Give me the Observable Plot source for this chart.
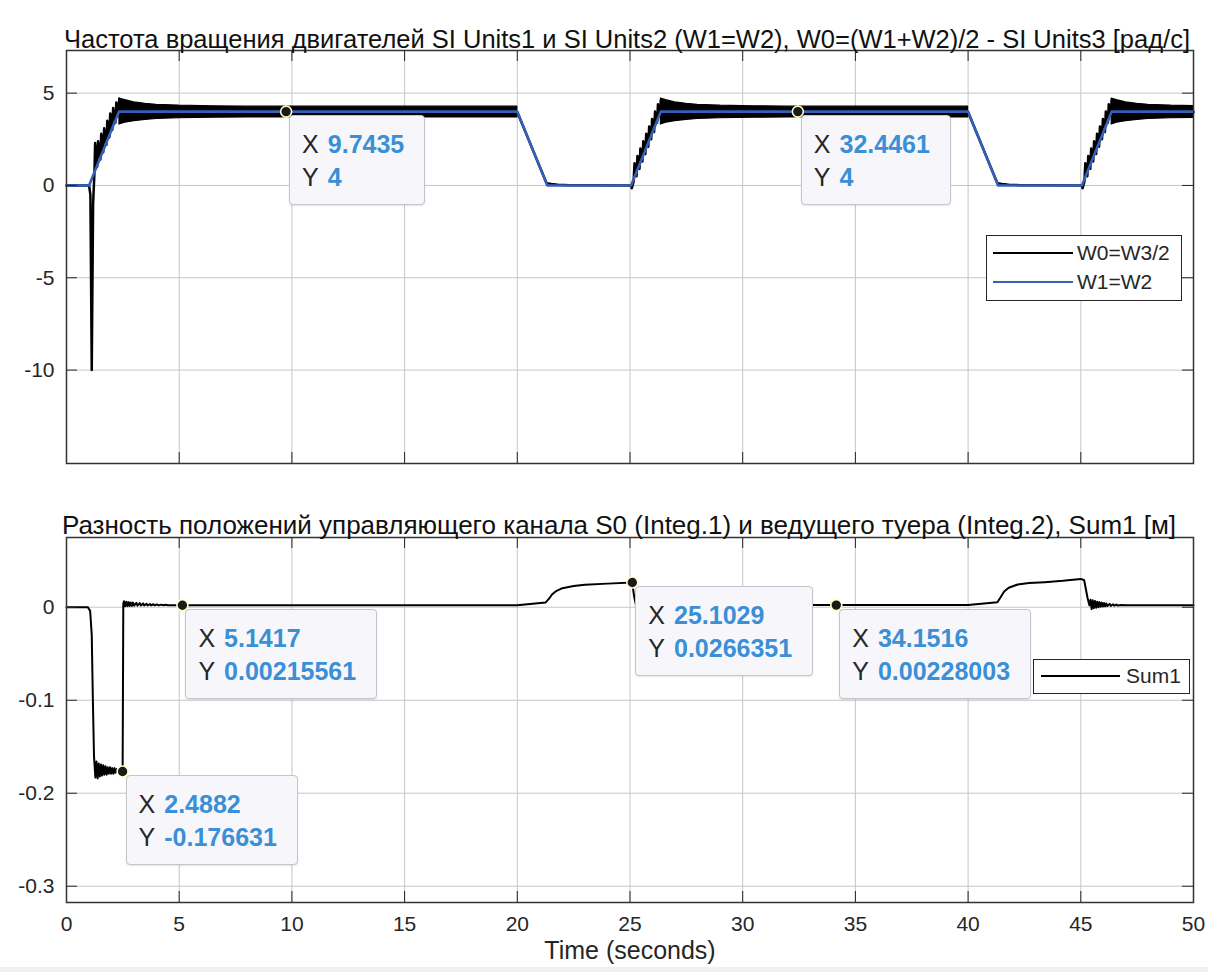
<!DOCTYPE html>
<html>
<head>
<meta charset="utf-8">
<script src="https://cdn.jsdelivr.net/npm/d3@7"></script>
<script src="https://cdn.jsdelivr.net/npm/@observablehq/plot@0.6"></script>
<style>
  body { margin: 0; background: #fff; }
  #wrap { position: relative; width: 1208px; height: 972px; overflow: hidden; background: #fff;
          font-family: "Liberation Sans", Arial, sans-serif; color: #262626; }
  #wrap svg { display: block; position: absolute; left: 0; }
  .strip { position: absolute; left: 0; top: 967px; width: 1208px; height: 5px; background: #f0f0f0; }
  .tip { position: absolute; background: #f7f7fb; border: 1px solid #c4c4ca; border-radius: 4px;
         padding: 12px 20px 10px 12px; font-size: 25px; line-height: 33px; white-space: nowrap;
         color: #262626; box-shadow: 0 1px 2px rgba(0,0,0,0.10); }
  .tip b { color: #3a8fd6; margin-left: 9px; }
  .legend { position: absolute; background: #fff; border: 1px solid #262626; font-size: 21px; }
  .legend .ln { position: absolute; height: 2.5px; }
  .legend .tx { position: absolute; line-height: 24px; white-space: nowrap; color: #262626; }
</style>
</head>
<body>
<div id="wrap"><div class="strip"></div></div>
<script>
// ---------------- data ----------------
const xTicks = [0, 5, 10, 15, 20, 25, 30, 35, 40, 45, 50];
const topYTicks = [-10, -5, 0, 5];
const botYTicks = [-0.3, -0.2, -0.1, 0];

const title1 = "Частота вращения двигателей SI Units1 и SI Units2 (W1=W2), W0=(W1+W2)/2 - SI Units3 [рад/с]";
const title2 = "Разность положений управляющего канала S0 (Integ.1) и ведущего туера (Integ.2), Sum1 [м]";
const xLabel = "Time (seconds)";

// W1=W2 (blue)
const w1T = [0, 1.0, 2.33, 20.0, 21.33, 25.05, 26.37, 40.0, 41.33, 45.05, 46.37, 50];
const w1V = [0, 0, 4, 4, 0, 0, 4, 4, 0, 0, 4, 4];

// W0=W3/2 (black) trace
const w0T = [0, 1.0, 1.06, 1.12, 1.18, 1.24, 1.27, 1.36, 1.40, 1.50, 1.54, 1.63, 1.67, 1.77, 1.81, 1.90, 1.94, 2.03, 2.07, 2.17, 2.21, 2.30, 2.34, 2.45,
  20.0, 21.30, 21.5, 21.8, 22.3, 23.0, 25.05,
  25.08, 25.16, 25.20, 25.29, 25.33, 25.42, 25.46, 25.55, 25.59, 25.68, 25.72, 25.81, 25.85, 25.94, 25.98, 26.07, 26.11, 26.20, 26.24, 26.33, 26.37, 26.45,
  40.0, 41.30, 41.5, 41.8, 42.3, 43.0, 45.05,
  45.08, 45.16, 45.20, 45.29, 45.33, 45.42, 45.46, 45.55, 45.59, 45.68, 45.72, 45.81, 45.85, 45.94, 45.98, 46.07, 46.11, 46.20, 46.24, 46.33, 46.37, 46.45,
  50];
const w0V = [0, 0, -0.5, -10, -1, 0.7, 2.3, 1.0, 2.4, 1.4, 2.8, 1.8, 3.1, 2.2, 3.5, 2.6, 3.9, 3.0, 4.2, 3.4, 4.5, 3.8, 4.7, 3.97,
  3.97, 0.12, 0.08, 0.04, 0.015, 0.005, 0,
  -0.15, 0.2, 1.2, 0.5, 1.6, 0.9, 2.0, 1.3, 2.4, 1.7, 2.8, 2.1, 3.2, 2.5, 3.6, 2.9, 4.0, 3.4, 4.4, 3.8, 4.6, 3.97,
  3.97, 0.12, 0.08, 0.04, 0.015, 0.005, 0,
  -0.15, 0.2, 1.2, 0.5, 1.6, 0.9, 2.0, 1.3, 2.4, 1.7, 2.8, 2.1, 3.2, 2.5, 3.6, 2.9, 4.0, 3.4, 4.4, 3.8, 4.6, 3.97,
  3.97];

// W0 oscillation envelope on the plateaus
const w0BandSeg = [1,1,1,1,1,1,1,1,1, 2,2,2,2,2,2,2,2,2, 3,3,3,3,3,3,3];
const w0BandT  = [2.35, 2.6, 3.0, 3.5, 4.0, 5.0, 6.5, 8.0, 20.0,
                  26.37, 26.6, 27.0, 27.5, 28.0, 29.0, 30.5, 32.0, 40.0,
                  46.37, 46.6, 47.0, 47.5, 48.0, 49.0, 50.0];
const w0BandLo = [3.30, 3.40, 3.48, 3.55, 3.60, 3.64, 3.67, 3.68, 3.68,
                  3.30, 3.40, 3.48, 3.55, 3.60, 3.64, 3.67, 3.68, 3.68,
                  3.30, 3.40, 3.48, 3.55, 3.60, 3.64, 3.66];
const w0BandHi = [4.70, 4.62, 4.50, 4.42, 4.37, 4.32, 4.29, 4.27, 4.27,
                  4.70, 4.62, 4.50, 4.42, 4.37, 4.32, 4.29, 4.27, 4.27,
                  4.70, 4.62, 4.50, 4.42, 4.37, 4.32, 4.30];

// Sum1 trace (with its ringing read point by point)
const sT = [0, 0.95, 1.05, 1.12, 1.17, 1.22, 1.28,
  1.33, 1.38, 1.43, 1.48, 1.53, 1.58, 1.63, 1.68, 1.73, 1.78, 1.83, 1.88, 1.93, 1.98, 2.03, 2.08, 2.13, 2.18, 2.23, 2.28, 2.33, 2.38, 2.43, 2.47, 2.49,
  2.52, 2.55, 2.6, 2.65, 2.7, 2.75, 2.8, 2.85, 2.9, 2.95, 3.0, 3.1, 3.15, 3.25, 3.3, 3.4, 3.45, 3.55, 3.6, 3.7, 3.75, 3.85, 3.9, 4.0, 4.1, 4.2, 4.3, 4.4, 4.5, 5.0,
  20.0, 21.25, 21.4, 21.55, 21.7, 22.0, 22.5, 23.0, 24.0, 25.1, 25.18, 25.26, 26.5,
  40.0, 41.3, 41.45, 41.6, 41.8, 42.2, 42.7, 43.4, 44.2, 45.0, 45.15, 45.3, 45.38,
  45.43, 45.48, 45.53, 45.58, 45.63, 45.68, 45.73, 45.78, 45.83, 45.88, 45.93, 45.98, 46.03, 46.08, 46.13, 46.18, 46.28, 46.33, 46.43, 46.48, 46.58, 46.63, 46.8, 47.0, 50];
const sV = [0, 0, -0.004, -0.03, -0.1, -0.16, -0.183,
  -0.166, -0.184, -0.168, -0.182, -0.169, -0.181, -0.170, -0.180, -0.171, -0.180, -0.172, -0.179, -0.172, -0.179, -0.173, -0.179, -0.173, -0.178, -0.174, -0.178, -0.174, -0.178, -0.175, -0.177, -0.1766,
  0.004, 0.0065, 0.001, 0.006, 0.0012, 0.0055, 0.0014, 0.0052, 0.0015, 0.005, 0.0016, 0.0047, 0.0017, 0.0044, 0.0018, 0.0041, 0.0019, 0.0038, 0.0019, 0.0035, 0.002, 0.0032, 0.002, 0.003, 0.002, 0.0028, 0.0021, 0.0026, 0.0021, 0.0022,
  0.0022, 0.005, 0.009, 0.014, 0.017, 0.0205, 0.0228, 0.0241, 0.0254, 0.0266, 0.012, 0.003, 0.0023,
  0.0023, 0.0054, 0.011, 0.017, 0.021, 0.0245, 0.026, 0.027, 0.0285, 0.0305, 0.029, 0.01, 0.002,
  0.008, -0.002, 0.0075, -0.001, 0.0068, -0.0005, 0.006, 0.0, 0.0055, 0.0005, 0.005, 0.0008, 0.0045, 0.001, 0.004, 0.0013, 0.0036, 0.0015, 0.0032, 0.0017, 0.0029, 0.0018, 0.0025, 0.0022, 0.0022];

// data tips
const tipTopX = [9.7435, 32.4461];
const tipTopY = [4, 4];
const tipBotX = [5.1417, 2.4882, 25.1029, 34.1516];
const tipBotY = [0.00215561, -0.176631, 0.0266351, 0.00228003];

// legends
const legTopLabels = ["W0=W3/2", "W1=W2"];
const legBotLabels = ["Sum1"];

// ---------------- drawing ----------------
const C_BLACK = "#000000", C_BLUE = "#3560b8", C_GRID = "#c6c6c6", C_AX = "#262626";
const FONT = "'Liberation Sans', Arial, sans-serif";
const W = 1208, ML = 66, MR = 15;

const rows = (t, v) => t.map((x, i) => ({t: x, v: v[i]}));
const bandRows = (seg, t, lo, hi) => t.map((x, i) => ({t: x, lo: lo[i], hi: hi[i], seg: seg[i]}));

function frameMarks(innerW, innerH, yTicks) {
  const T = 11;
  return [
    Plot.tickX(xTicks, {x: d => d, insetBottom: innerH - T, stroke: C_AX, strokeWidth: 1}),
    Plot.tickX(xTicks, {x: d => d, insetTop: innerH - T, stroke: C_AX, strokeWidth: 1}),
    Plot.tickY(yTicks, {y: d => d, insetRight: innerW - T, stroke: C_AX, strokeWidth: 1}),
    Plot.tickY(yTicks, {y: d => d, insetLeft: innerW - T, stroke: C_AX, strokeWidth: 1}),
    Plot.frame({stroke: "#333", strokeWidth: 1.5})
  ];
}

const h1 = 475, mt1 = 50, mb1 = 12;
const p1 = Plot.plot({
  width: W, height: h1, marginTop: mt1, marginBottom: mb1, marginLeft: ML, marginRight: MR,
  x: {domain: [0, 50], axis: null},
  y: {domain: [-15.06, 7.31]},
  style: {fontFamily: FONT, fontSize: "21px", color: C_AX, background: "transparent", overflow: "visible"},
  marks: [
    Plot.ruleX(xTicks, {stroke: C_GRID}),
    Plot.ruleY(topYTicks, {stroke: C_GRID}),
    Plot.areaY(bandRows(w0BandSeg, w0BandT, w0BandLo, w0BandHi), {x: "t", y1: "lo", y2: "hi", z: "seg", fill: C_BLACK, stroke: C_BLACK, strokeWidth: 1.2}),
    Plot.line(rows(w0T, w0V), {x: "t", y: "v", stroke: C_BLACK, strokeWidth: 2.5}),
    Plot.line(rows(w1T, w1V), {x: "t", y: "v", stroke: C_BLUE, strokeWidth: 2.6}),
    ...frameMarks(W - ML - MR, h1 - mt1 - mb1, topYTicks),
    Plot.axisY({ticks: topYTicks, tickSize: 0, tickPadding: 12, tickFormat: d => String(d), label: null, fontSize: 21, fill: C_AX}),
    Plot.text([title1], {text: d => d, frameAnchor: "top", dy: -21, dx: -3, fontSize: 25.5, fill: "#111"}),
    Plot.dot(tipTopX.map((x, i) => i), {x: i => tipTopX[i], y: i => tipTopY[i], r: 5.5, fill: "#1a1a1a", stroke: "#ffffc8", strokeWidth: 1.6})
  ]
});

const top2 = 475, h2 = 497, mt2 = 62, mb2 = 70;
const p2 = Plot.plot({
  width: W, height: h2, marginTop: mt2, marginBottom: mb2, marginLeft: ML, marginRight: MR,
  x: {domain: [0, 50]},
  y: {domain: [-0.3175, 0.075]},
  style: {fontFamily: FONT, fontSize: "21px", color: C_AX, background: "transparent", overflow: "visible"},
  marks: [
    Plot.ruleX(xTicks, {stroke: C_GRID}),
    Plot.ruleY(botYTicks, {stroke: C_GRID}),
    Plot.line(rows(sT, sV), {x: "t", y: "v", stroke: C_BLACK, strokeWidth: 2}),
    ...frameMarks(W - ML - MR, h2 - mt2 - mb2, botYTicks),
    Plot.axisY({ticks: botYTicks, tickSize: 0, tickPadding: 12, tickFormat: d => String(d), label: null, fontSize: 21, fill: C_AX}),
    Plot.axisX({ticks: xTicks, tickSize: 0, tickPadding: 14, tickFormat: d => String(d), label: null, fontSize: 21, fill: C_AX}),
    Plot.text([title2], {text: d => d, frameAnchor: "top", dy: -22, dx: -11, fontSize: 26, fill: "#111"}),
    Plot.text([xLabel], {text: d => d, frameAnchor: "bottom", dy: 56, fontSize: 25, fill: C_AX}),
    Plot.dot(tipBotX.map((x, i) => i), {x: i => tipBotX[i], y: i => tipBotY[i], r: 5.5, fill: "#1a1a1a", stroke: "#ffffc8", strokeWidth: 1.6})
  ]
});

const wrap = document.getElementById("wrap");
p1.style.top = "0px";
p2.style.top = top2 + "px";
wrap.appendChild(p1);
wrap.appendChild(p2);

function sc(plot, name, v) {
  const s = plot.scale(name);
  return s.apply ? s.apply(v) : d3.scaleLinear(s.domain, s.range)(v);
}

function addTip(plot, offsetTop, x, y) {
  const d = document.createElement("div");
  d.className = "tip";
  d.innerHTML = `X<b>${String(x)}</b><br>Y<b>${String(y)}</b>`;
  d.style.left = (sc(plot, "x", x) + 3.5) + "px";
  d.style.top = (offsetTop + sc(plot, "y", y) + 4) + "px";
  wrap.appendChild(d);
}
tipTopX.forEach((x, i) => addTip(p1, 0, x, tipTopY[i]));
tipBotX.forEach((x, i) => addTip(p2, top2, x, tipBotY[i]));

function addLegend(left, top, w, h, labels, colors, widths, rowYs, lineX0, lineX1, textX) {
  const d = document.createElement("div");
  d.className = "legend";
  d.style.left = left + "px"; d.style.top = top + "px";
  d.style.width = w + "px"; d.style.height = h + "px";
  labels.forEach((lab, i) => {
    const ln = document.createElement("div");
    ln.className = "ln";
    ln.style.left = lineX0 + "px"; ln.style.width = (lineX1 - lineX0) + "px";
    ln.style.top = (rowYs[i] - widths[i] / 2) + "px"; ln.style.height = widths[i] + "px";
    ln.style.background = colors[i];
    d.appendChild(ln);
    const tx = document.createElement("div");
    tx.className = "tx";
    tx.style.left = textX + "px"; tx.style.top = (rowYs[i] - 12) + "px";
    tx.textContent = lab;
    d.appendChild(tx);
  });
  wrap.appendChild(d);
}
addLegend(986, 235, 194, 64, legTopLabels, [C_BLACK, C_BLUE], [2.5, 2.5], [17, 46], 6, 86, 90);
addLegend(1033, 659, 155, 33, legBotLabels, [C_BLACK], [2.2], [16], 7, 86, 92);
</script>
</body>
</html>
